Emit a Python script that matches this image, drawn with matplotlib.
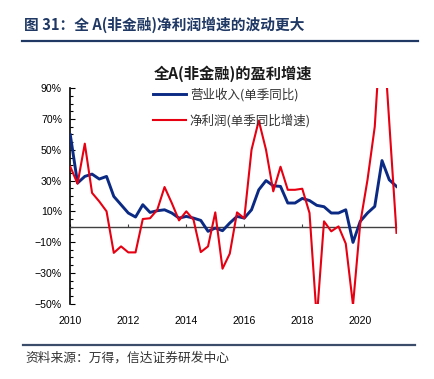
import numpy as np
import matplotlib
matplotlib.use("Agg")
import matplotlib.pyplot as plt
from matplotlib.ticker import MultipleLocator, FuncFormatter

plt.rcParams["font.family"] = ["Noto Sans CJK SC", "DejaVu Sans"]

# quarterly, 2010Q1 .. 2021Q2
start_year = 2010
revenue_yoy = [59.7, 28.4, 32.7, 34.2, 31, 32.7, 19.7, 14.3, 8.9, 6.3,
               14.3, 9.3, 10.4, 11, 8.9, 5.6, 6.7, 5.6, 4.1, -3,
               -0.9, -2.6, 2.4, 6.7, 5.6, 11, 24, 30, 26.6, 26.2,
               15.4, 15.4, 18.4, 17, 13.9, 13, 8.9, 8.9, 11, -10.2,
               3.5, 8.9, 13.2, 43, 30.5, 26.2]
profit_yoy = [39, 28, 54, 22, 16.4, 10, -17, -12.8, -16.7, -16.7,
              5, 5.5, 11, 25.8, 15.4, 4.1, 10, 4.5, -16.5, -12.8,
              9.3, -27.3, -17.5, 9.3, 5.4, 50, 69, 50, 23, 39,
              24, 24, 24.7, 8.9, -60, 3.5, -3, 0.2, -11, -51,
              2.4, 30.5, 65, 140, 68, -4]
year_ticks = [2010, 2012, 2014, 2016, 2018, 2020]

fig_title = "图 31：全 A(非金融)净利润增速的波动更大"
chart_title = "全A(非金融)的盈利增速"
label_rev = "营业收入(单季同比)"
label_profit = "净利润(单季同比增速)"
source_note = "资料来源：万得，信达证券研发中心"

W, H = 434, 379
navy = "#1F3864"
blue = "#0A2A84"
red = "#E60012"

x = start_year + np.arange(len(revenue_yoy)) * 0.25

fig = plt.figure(figsize=(W / 100, H / 100), dpi=100)
fig.patch.set_facecolor("white")

# header + rules
fig.text(24 / W, 1 - 25 / H, fig_title, fontsize=10.6, fontweight="bold",
         color=navy, va="center", ha="left")
fig.add_artist(plt.Line2D([22 / W, 418 / W], [1 - 41 / H, 1 - 41 / H],
                          color=navy, lw=1.6))
fig.add_artist(plt.Line2D([23 / W, 415 / W], [1 - 345 / H, 1 - 345 / H],
                          color="#3B4C6B", lw=1.6))
fig.text(25 / W, 1 - 358 / H, source_note, fontsize=9.2, style="italic",
         color="#333333", va="center", ha="left")

# plot area
ax = fig.add_axes([70.3 / W, 1 - 303.6 / H, (396.5 - 70.3) / W, (303.6 - 88.3) / H])
ax.plot(x, revenue_yoy, color=blue, lw=2.1, label=label_rev, zorder=3)
ax.plot(x, profit_yoy, color=red, lw=1.5, label=label_profit, zorder=4)

ax.set_xlim(x[0], x[-1])
ax.set_ylim(-50, 90)

ax.spines["top"].set_visible(False)
ax.spines["right"].set_visible(False)
ax.spines["left"].set_linewidth(1.2)
ax.spines["bottom"].set_position(("data", 0))
ax.spines["bottom"].set_color("#404040")
ax.spines["bottom"].set_linewidth(1.0)

ax.yaxis.set_minor_locator(MultipleLocator(5))
ax.set_yticks(np.arange(-50, 91, 20))
ax.yaxis.set_major_formatter(FuncFormatter(lambda v, p: f"{v:.0f}%".replace("-", "\u2212")))
ax.tick_params(axis="y", which="major", direction="in", length=3.5, width=0.8,
               labelsize=7.6, pad=6)
ax.tick_params(axis="y", which="minor", direction="in", length=2.5, width=0.8)

ax.set_xticks(year_ticks)
ax.tick_params(axis="x", direction="in", length=2.5, width=0.8, color="#404040",
               labelbottom=False)

# year labels sit below the plot, ticks stay on the zero line
sec = ax.secondary_xaxis("bottom")
sec.set_xticks(year_ticks)
sec.spines["bottom"].set_visible(False)
sec.tick_params(length=0, labelsize=7.6, pad=9)

for lab in ax.get_yticklabels() + sec.get_xticklabels():
    lab.set_family(["Liberation Sans", "DejaVu Sans"])

ax.set_title(chart_title, fontsize=11, fontweight="bold", color="#1a1a1a",
             pad=7)

ax.legend(loc="upper left", bbox_to_anchor=(153 / W, 1 - 88 / H),
          bbox_transform=fig.transFigure, frameon=False, fontsize=9,
          handlelength=2.6, handletextpad=0.35, labelspacing=0.95,
          borderaxespad=0, borderpad=0, labelcolor="#333333")

fig.savefig("out.png", dpi=100)
